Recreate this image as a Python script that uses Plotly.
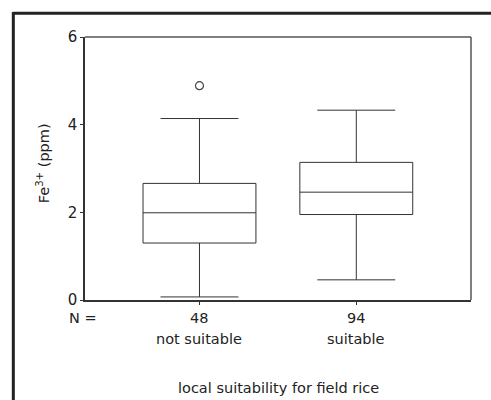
import plotly.graph_objects as go

# Data
categories = ["not suitable", "suitable"]
counts = ["48", "94"]
lower_fence = [0.07, 0.46]
q1 = [1.30, 1.95]
median = [1.99, 2.46]
q3 = [2.66, 3.14]
upper_fence = [4.14, 4.33]
outlier_cat = [0]
outlier_val = [4.89]
y_ticks = [0, 2, 4, 6]

xpos = list(range(len(categories)))
FONT = "DejaVu Sans"
DARK = "#333333"

fig = go.Figure()
fig.add_trace(go.Box(
    x=xpos, q1=q1, median=median, q3=q3,
    lowerfence=lower_fence, upperfence=upper_fence,
    width=0.72, whiskerwidth=0.69,
    fillcolor="rgba(0,0,0,0)",
    line=dict(color=DARK, width=1),
    boxpoints=False, showlegend=False, hoverinfo="skip",
))
fig.add_trace(go.Scatter(
    x=outlier_cat, y=outlier_val, mode="markers",
    marker=dict(symbol="circle-open", size=8, color="#444444", line=dict(width=1.2)),
    showlegend=False,
))

ann = []
for xi, c, cat in zip(xpos, counts, categories):
    ann.append(dict(x=xi, y=-0.0684, xref="x", yref="paper", text=c,
                    showarrow=False, yanchor="middle", xanchor="center"))
    ann.append(dict(x=xi, y=-0.150, xref="x", yref="paper", text=cat,
                    showarrow=False, yanchor="middle", xanchor="center"))
ann.append(dict(x=-0.004, y=-0.0684, xref="paper", yref="paper", text="N =",
                showarrow=False, yanchor="middle", xanchor="center"))
ann.append(dict(x=0.502, y=-0.335, xref="paper", yref="paper",
                text="local suitability for field rice",
                showarrow=False, yanchor="middle", xanchor="center"))
ann.append(dict(x=-0.108, y=0.521, xref="paper", yref="paper",
                text="Fe<sup>3+</sup> (ppm)", textangle=-90,
                showarrow=False, yanchor="middle", xanchor="center"))

shapes = [
    # outer figure frame (top and left)
    dict(type="line", xref="paper", yref="paper", x0=-0.1857, x1=1.2, y0=1.090, y1=1.090,
         line=dict(color="#222222", width=3)),
    dict(type="line", xref="paper", yref="paper", x0=-0.1857, x1=-0.1857, y0=1.095, y1=-0.45,
         line=dict(color="#222222", width=3)),
    # top and right of plot frame, lighter grey
    dict(type="line", xref="paper", yref="paper", x0=0, x1=1, y0=1, y1=1,
         line=dict(color="#555555", width=1.5)),
    dict(type="line", xref="paper", yref="paper", x0=1, x1=1, y0=0, y1=1,
         line=dict(color="#555555", width=1.5)),
]

fig.update_layout(
    width=491, height=400,
    margin=dict(l=85, r=20, t=37, b=100),
    paper_bgcolor="white", plot_bgcolor="white",
    font=dict(family=FONT, size=14.5, color="#222222"),
    annotations=ann, shapes=shapes,
    xaxis=dict(range=[-0.730, 1.7315], tickvals=xpos, showticklabels=False,
               ticks="outside", ticklen=3, tickcolor=DARK,
               showgrid=False, zeroline=False,
               showline=True, linecolor=DARK, linewidth=1.5),
    yaxis=dict(range=[0, 6], tickvals=y_ticks, ticks="outside", ticklen=3, tickcolor=DARK,
               showgrid=False, zeroline=False,
               showline=True, linecolor=DARK, linewidth=1.5,
               tickfont=dict(size=15)),
)

fig.write_html("out.html")
